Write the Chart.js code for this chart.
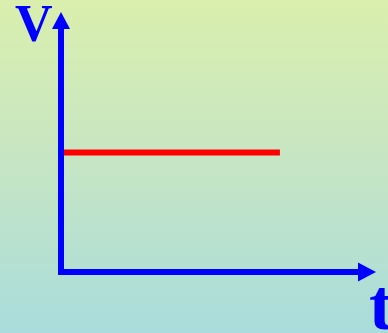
<!DOCTYPE html>
<html>
<head>
<meta charset="utf-8">
<script src="https://cdn.jsdelivr.net/npm/chart.js@4"></script>
<style>
html,body{margin:0;padding:0;}
body{width:388px;height:333px;overflow:hidden;background:linear-gradient(to bottom,#daefad 0%,#c8e6c2 45%,#a9dcdc 100%);}
#wrap{position:relative;width:388px;height:333px;}
</style>
</head>
<body>
<div id="wrap"><canvas id="c" width="388" height="333"></canvas></div>
<script>
// data
const timeValues = [0, 6.95];
const velocityValues = [4.6, 4.6];
const axisLabels = { y: 'V', x: 't' };
const xRange = [0, 10];
const yRange = [0, 10];

const axesPlugin = {
  id: 'arrowAxes',
  afterDatasetsDraw(chart) {
    const ctx = chart.ctx;
    const xs = chart.scales.x, ys = chart.scales.y;
    const x0 = xs.getPixelForValue(xRange[0]);
    const x1 = xs.getPixelForValue(xRange[1]);
    const y0 = ys.getPixelForValue(yRange[0]);
    const y1 = ys.getPixelForValue(yRange[1]);
    ctx.save();
    ctx.fillStyle = '#0000ff';
    ctx.strokeStyle = '#0000ff';
    ctx.lineWidth = 6;
    ctx.lineCap = 'butt';
    // vertical axis
    ctx.beginPath();
    ctx.moveTo(x0, y0 + 3);
    ctx.lineTo(x0, y1 + 14);
    ctx.stroke();
    // horizontal axis
    ctx.beginPath();
    ctx.moveTo(x0 - 3, y0);
    ctx.lineTo(x1 - 14, y0);
    ctx.stroke();
    // arrow heads
    ctx.beginPath();
    ctx.moveTo(x0, y1);
    ctx.lineTo(x0 - 9, y1 + 17);
    ctx.lineTo(x0 + 9, y1 + 17);
    ctx.closePath();
    ctx.fill();
    ctx.beginPath();
    ctx.moveTo(x1, y0);
    ctx.lineTo(x1 - 18, y0 - 9.5);
    ctx.lineTo(x1 - 18, y0 + 9.5);
    ctx.closePath();
    ctx.fill();
    // labels
    ctx.textBaseline = 'alphabetic';
    ctx.textAlign = 'left';
    ctx.font = 'bold 52px "Liberation Serif", "DejaVu Serif", serif';
    ctx.fillText(axisLabels.y, x0 - 46, y1 + 29);
    ctx.font = 'bold 72px "Liberation Serif", "DejaVu Serif", serif';
    ctx.fillText(axisLabels.x, x1 - 7, y0 + 57);
    ctx.restore();
  }
};

new Chart(document.getElementById('c'), {
  type: 'line',
  data: {
    datasets: [{
      data: timeValues.map((t, i) => ({ x: t, y: velocityValues[i] })),
      borderColor: '#ff0000',
      borderWidth: 6,
      borderCapStyle: 'butt',
      pointRadius: 0,
      fill: false,
      tension: 0
    }]
  },
  options: {
    responsive: false,
    animation: false,
    devicePixelRatio: 1,
    layout: { padding: { left: 61, right: 12, top: 12, bottom: 61 } },
    plugins: { legend: { display: false }, tooltip: { enabled: false } },
    scales: {
      x: { type: 'linear', min: xRange[0], max: xRange[1], display: false },
      y: { type: 'linear', min: yRange[0], max: yRange[1], display: false }
    }
  },
  plugins: [axesPlugin]
});
</script>
</body>
</html>
